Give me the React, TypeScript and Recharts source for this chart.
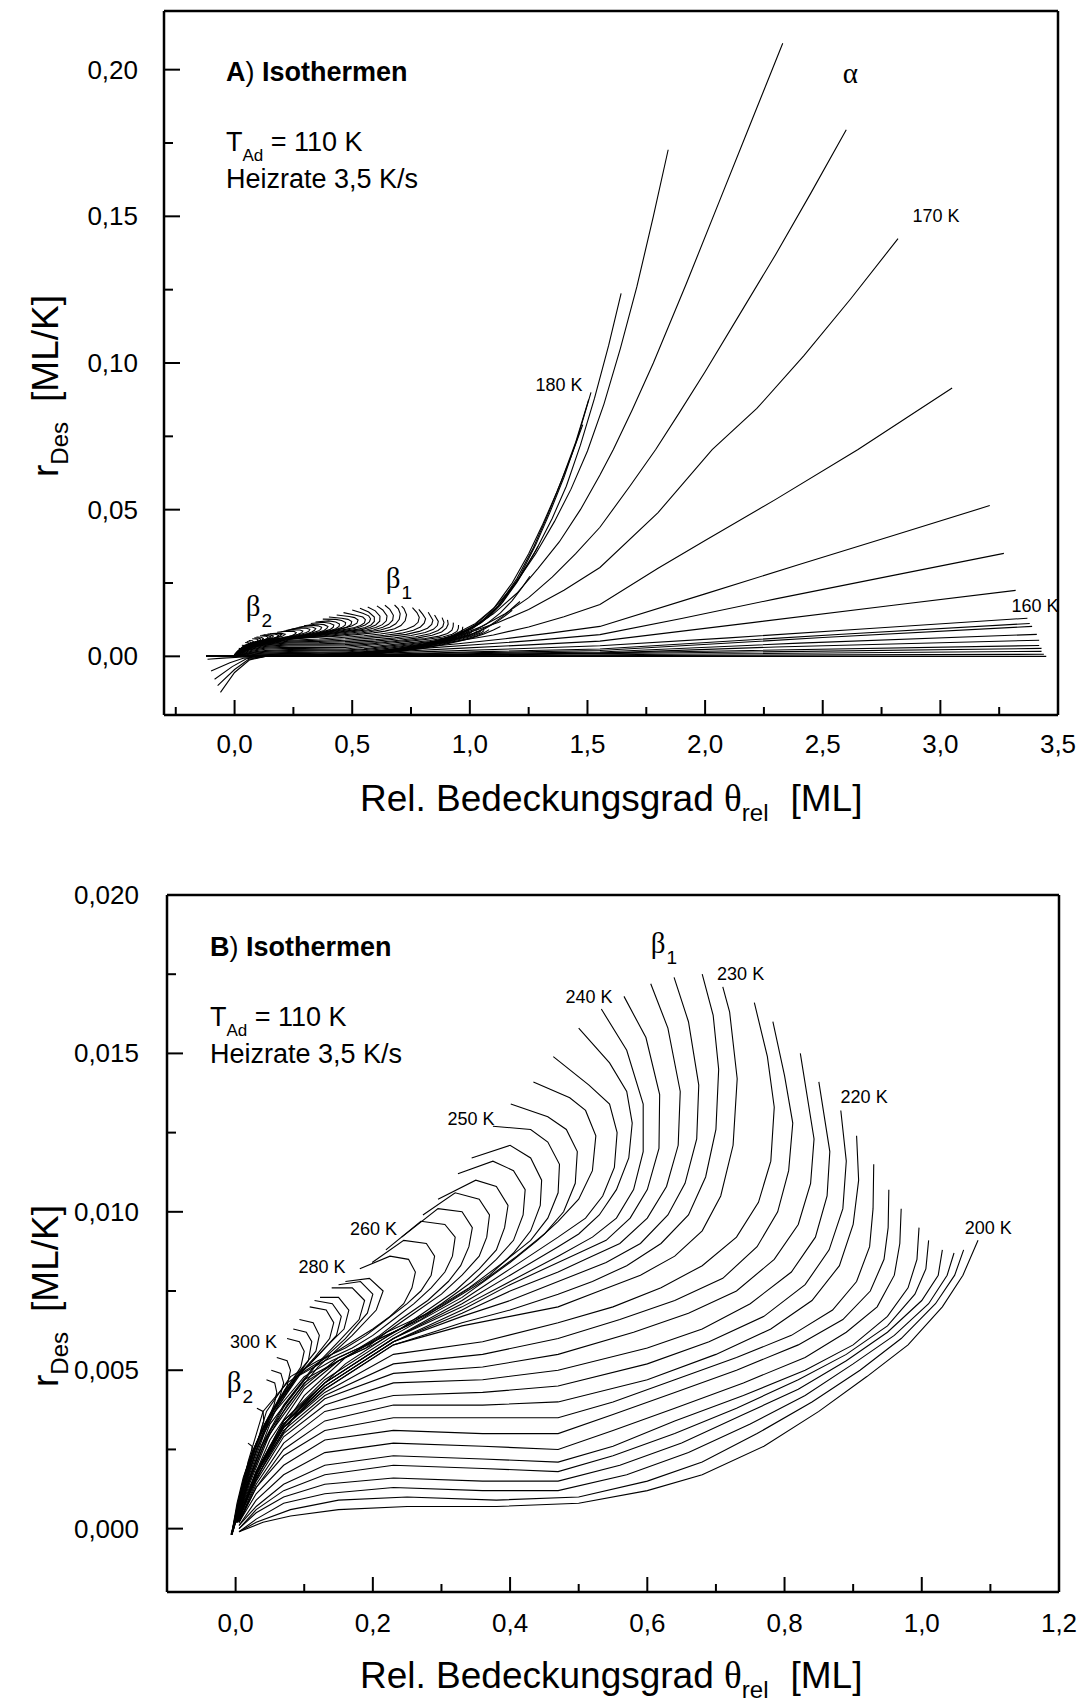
import React from 'react'
import { LineChart, Line, XAxis, YAxis, ReferenceDot, ReferenceLine } from 'recharts'

type Pt = [number, number]

const SANS = 'Liberation Sans, Arial, sans-serif'
const SERIF = 'Liberation Serif, Times New Roman, serif'

// axis ticks (major ones get a label)
const ticksAX = [-0.25, 0, 0.25, 0.5, 0.75, 1, 1.25, 1.5, 1.75, 2, 2.25, 2.5, 2.75, 3, 3.25, 3.5]
const majorAX = [0, 0.5, 1, 1.5, 2, 2.5, 3, 3.5]
const ticksAY = [0, 0.025, 0.05, 0.075, 0.1, 0.125, 0.15, 0.175, 0.2]
const majorAY = [0, 0.05, 0.1, 0.15, 0.2]
const ticksBX = [0, 0.1, 0.2, 0.3, 0.4, 0.5, 0.6, 0.7, 0.8, 0.9, 1, 1.1, 1.2]
const majorBX = [0, 0.2, 0.4, 0.6, 0.8, 1, 1.2]
const ticksBY = [0, 0.0025, 0.005, 0.0075, 0.01, 0.0125, 0.015, 0.0175, 0.02]
const majorBY = [0, 0.005, 0.01, 0.015, 0.02]

// axis ranges
const domainAX = [-0.3, 3.5]
const domainAY = [-0.02, 0.22]
const domainBX = [-0.1, 1.2]
const domainBY = [-0.002, 0.02]

// high temperature isotherms (200 K ... 300 K), shown in both panels
// each list runs from the start coverage down to zero coverage
const h00: Pt[] = [[1.082,0.0091],[1.06,0.008],[1.03,0.007],[0.98,0.0058],[0.92,0.0048],[0.85,0.0037],[0.77,0.0026],[0.68,0.0017],[0.6,0.0012],[0.5,0.0008],[0.38,0.0007],[0.25,0.0007],[0.15,0.0006],[0.08,0.0004],[0.04,0.0002],[0.005,-0.0001]]
const h01: Pt[] = [[1.061,0.0088],[1.048,0.008],[1.02,0.0071],[0.97,0.006],[0.91,0.005],[0.84,0.004],[0.76,0.003],[0.68,0.0021],[0.6,0.0015],[0.5,0.001],[0.38,0.0009],[0.25,0.001],[0.15,0.0009],[0.08,0.0006],[0.03,0.0002],[0.005,-0.0001]]
const h02: Pt[] = [[1.047,0.0087],[1.037,0.008],[1.01,0.0071],[0.96,0.0061],[0.9,0.0052],[0.83,0.0042],[0.75,0.0033],[0.66,0.0024],[0.57,0.0017],[0.47,0.0012],[0.36,0.0012],[0.23,0.0013],[0.13,0.0011],[0.07,0.0008],[0.03,0.0003],[0.005,-0.0001]]
const h03: Pt[] = [[1.03,0.0088],[1.024,0.008],[1.0,0.0072],[0.95,0.0062],[0.89,0.0053],[0.82,0.0044],[0.74,0.0036],[0.65,0.0027],[0.56,0.002],[0.47,0.0015],[0.36,0.0015],[0.23,0.0016],[0.13,0.0014],[0.07,0.001],[0.03,0.0005],[0.005,0]]
const h04: Pt[] = [[1.01,0.0091],[1.006,0.0082],[0.99,0.0074],[0.95,0.0064],[0.89,0.0055],[0.82,0.0047],[0.73,0.0038],[0.64,0.003],[0.55,0.0023],[0.47,0.0018],[0.36,0.0019],[0.23,0.002],[0.13,0.0017],[0.07,0.0012],[0.03,0.0006],[0.005,0]]
const h05: Pt[] = [[0.996,0.0095],[0.993,0.0085],[0.98,0.0076],[0.95,0.0067],[0.9,0.0058],[0.83,0.005],[0.74,0.0042],[0.64,0.0034],[0.55,0.0026],[0.47,0.0021],[0.36,0.0022],[0.23,0.0023],[0.13,0.002],[0.07,0.0014],[0.03,0.0007],[0.005,0.0001]]
const h06: Pt[] = [[0.97,0.0101],[0.968,0.009],[0.96,0.008],[0.935,0.007],[0.89,0.0062],[0.83,0.0054],[0.74,0.0046],[0.64,0.0038],[0.55,0.0031],[0.47,0.0025],[0.36,0.0026],[0.23,0.0027],[0.13,0.0024],[0.07,0.0017],[0.03,0.0009],[0.005,0.0001]]
const h07: Pt[] = [[0.952,0.0107],[0.951,0.0095],[0.945,0.0085],[0.925,0.0075],[0.885,0.0066],[0.82,0.0058],[0.73,0.005],[0.64,0.0043],[0.55,0.0036],[0.47,0.003],[0.36,0.003],[0.23,0.0031],[0.13,0.0028],[0.07,0.002],[0.03,0.0011],[0.005,0.0002]]
const h08: Pt[] = [[0.93,0.0115],[0.929,0.0101],[0.924,0.0089],[0.905,0.0078],[0.87,0.0069],[0.81,0.0061],[0.73,0.0054],[0.64,0.0047],[0.55,0.004],[0.47,0.0035],[0.36,0.0035],[0.23,0.0035],[0.13,0.0031],[0.07,0.0023],[0.03,0.0013],[0.005,0.0002]]
const h09: Pt[] = [[0.905,0.0124],[0.908,0.011],[0.9,0.0096],[0.88,0.0083],[0.84,0.0072],[0.78,0.0063],[0.7,0.0055],[0.6,0.0047],[0.47,0.004],[0.36,0.0039],[0.23,0.0039],[0.13,0.0034],[0.07,0.0025],[0.03,0.0013],[0.005,0.0002]]
const h10: Pt[] = [[0.882,0.0132],[0.89,0.0116],[0.885,0.0101],[0.865,0.0088],[0.83,0.0077],[0.77,0.0067],[0.69,0.0059],[0.6,0.0052],[0.47,0.0045],[0.36,0.0043],[0.23,0.0042],[0.13,0.0037],[0.07,0.0027],[0.03,0.0014],[0.005,0.0002]]
const h11: Pt[] = [[0.85,0.0141],[0.866,0.0119],[0.862,0.0105],[0.845,0.0092],[0.81,0.0081],[0.75,0.0071],[0.68,0.0063],[0.6,0.0057],[0.47,0.005],[0.36,0.0047],[0.23,0.0046],[0.13,0.0039],[0.07,0.0029],[0.03,0.0015],[0.005,0.0002]]
const h12: Pt[] = [[0.823,0.015],[0.843,0.0123],[0.838,0.0109],[0.82,0.0096],[0.785,0.0085],[0.73,0.0075],[0.66,0.0068],[0.58,0.0062],[0.47,0.0055],[0.36,0.0051],[0.23,0.0049],[0.13,0.0041],[0.07,0.003],[0.03,0.0016],[0.005,0.0003]]
const h13: Pt[] = [[0.783,0.016],[0.8,0.0143],[0.812,0.0128],[0.806,0.0113],[0.79,0.01],[0.76,0.0089],[0.71,0.0079],[0.64,0.0072],[0.56,0.0066],[0.47,0.006],[0.36,0.0055],[0.23,0.0052],[0.13,0.0042],[0.07,0.0031],[0.03,0.0016],[0.005,0.0003]]
const h14: Pt[] = [[0.756,0.0166],[0.775,0.0149],[0.785,0.0133],[0.78,0.0116],[0.762,0.0103],[0.73,0.0092],[0.68,0.0083],[0.62,0.0076],[0.55,0.007],[0.47,0.0065],[0.36,0.0059],[0.23,0.0055],[0.13,0.0043],[0.07,0.0032],[0.03,0.0017],[0.005,0.0003]]
const h15: Pt[] = [[0.71,0.0171],[0.72,0.0163],[0.731,0.0142],[0.725,0.0121],[0.707,0.0105],[0.68,0.0094],[0.64,0.0086],[0.59,0.008],[0.53,0.0075],[0.47,0.007],[0.4,0.0067],[0.33,0.0064],[0.23,0.0058],[0.13,0.0044],[0.07,0.0032],[0.03,0.0017],[0.005,0.0003]]
const h16: Pt[] = [[0.68,0.0175],[0.696,0.0162],[0.704,0.0145],[0.7,0.0126],[0.685,0.0111],[0.66,0.0099],[0.62,0.009],[0.57,0.0083],[0.52,0.0078],[0.47,0.0074],[0.4,0.0069],[0.33,0.0065],[0.23,0.0058],[0.13,0.0044],[0.07,0.0032],[0.03,0.0017],[0.005,0.0003]]
const h17: Pt[] = [[0.639,0.0174],[0.66,0.016],[0.675,0.014],[0.672,0.0123],[0.655,0.0109],[0.63,0.0099],[0.59,0.009],[0.54,0.0084],[0.47,0.0078],[0.4,0.0072],[0.33,0.0067],[0.23,0.0059],[0.13,0.0045],[0.07,0.0032],[0.03,0.0017],[0.005,0.0003]]
const h18: Pt[] = [[0.605,0.0172],[0.63,0.0158],[0.648,0.0138],[0.645,0.0121],[0.628,0.0108],[0.6,0.0098],[0.56,0.009],[0.51,0.0085],[0.47,0.0081],[0.4,0.0075],[0.33,0.0068],[0.23,0.0059],[0.13,0.0045],[0.07,0.0033],[0.03,0.0017],[0.005,0.0003]]
const h19: Pt[] = [[0.566,0.0168],[0.598,0.0155],[0.618,0.0137],[0.617,0.012],[0.6,0.0107],[0.575,0.0098],[0.54,0.0091],[0.5,0.0087],[0.47,0.0084],[0.4,0.0077],[0.33,0.0069],[0.23,0.0059],[0.13,0.0045],[0.07,0.0033],[0.03,0.0017],[0.005,0.0003]]
const h20: Pt[] = [[0.533,0.0164],[0.57,0.0151],[0.594,0.0134],[0.594,0.0119],[0.58,0.0107],[0.555,0.0098],[0.52,0.0092],[0.47,0.0086],[0.4,0.0078],[0.33,0.007],[0.23,0.006],[0.13,0.0046],[0.07,0.0033],[0.03,0.0018],[0.005,0.0003]]
const h21: Pt[] = [[0.5,0.0158],[0.545,0.0147],[0.57,0.0138],[0.578,0.0128],[0.573,0.0117],[0.555,0.0107],[0.53,0.0099],[0.5,0.0093],[0.47,0.0089],[0.4,0.008],[0.33,0.0071],[0.23,0.006],[0.13,0.0046],[0.07,0.0033],[0.03,0.0018],[0.005,0.0003]]
const h22: Pt[] = [[0.463,0.0149],[0.515,0.014],[0.545,0.0134],[0.556,0.0125],[0.552,0.0114],[0.535,0.0105],[0.51,0.0098],[0.47,0.0092],[0.4,0.0082],[0.33,0.0072],[0.23,0.006],[0.13,0.0046],[0.07,0.0034],[0.03,0.0018],[0.005,0.0003]]
const h23: Pt[] = [[0.434,0.0141],[0.487,0.0136],[0.51,0.0132],[0.525,0.0124],[0.52,0.0113],[0.5,0.0104],[0.47,0.0097],[0.44,0.0091],[0.4,0.0084],[0.33,0.0073],[0.23,0.0061],[0.13,0.0047],[0.07,0.0034],[0.03,0.0018],[0.005,0.0003]]
const h24: Pt[] = [[0.401,0.0134],[0.455,0.013],[0.482,0.0126],[0.498,0.0119],[0.495,0.0109],[0.478,0.01],[0.45,0.0093],[0.41,0.0086],[0.36,0.0078],[0.3,0.007],[0.23,0.0062],[0.16,0.0052],[0.1,0.004],[0.05,0.0024],[0.02,0.0011],[0.003,0.0002]]
const h25: Pt[] = [[0.375,0.0127],[0.43,0.0126],[0.455,0.0122],[0.472,0.0115],[0.47,0.0106],[0.455,0.0098],[0.43,0.0091],[0.39,0.0084],[0.34,0.0076],[0.28,0.0068],[0.22,0.0062],[0.16,0.0054],[0.1,0.0042],[0.05,0.0026],[0.02,0.0012],[0.003,0.0002]]
const h26: Pt[] = [[0.344,0.0117],[0.4,0.0121],[0.43,0.0117],[0.446,0.011],[0.444,0.0102],[0.43,0.0094],[0.405,0.0087],[0.37,0.008],[0.32,0.0073],[0.27,0.0066],[0.21,0.006],[0.15,0.0053],[0.1,0.0044],[0.05,0.0028],[0.02,0.0013],[0.002,0.0002]]
const h27: Pt[] = [[0.324,0.0112],[0.375,0.0116],[0.405,0.0113],[0.422,0.0107],[0.419,0.0099],[0.405,0.0091],[0.38,0.0085],[0.345,0.0078],[0.3,0.0071],[0.25,0.0064],[0.2,0.0059],[0.15,0.0054],[0.1,0.0045],[0.05,0.003],[0.02,0.0014],[0.002,0.0002]]
const h28: Pt[] = [[0.295,0.0104],[0.35,0.011],[0.38,0.0108],[0.397,0.0102],[0.392,0.0095],[0.38,0.0088],[0.355,0.0082],[0.32,0.0075],[0.28,0.0069],[0.24,0.0063],[0.2,0.0058],[0.15,0.0053],[0.1,0.0046],[0.05,0.0031],[0.02,0.0015],[0.002,0.0002]]
const h29: Pt[] = [[0.273,0.0099],[0.32,0.0106],[0.355,0.0104],[0.37,0.0099],[0.366,0.0092],[0.355,0.0086],[0.33,0.008],[0.3,0.0074],[0.26,0.0068],[0.22,0.0062],[0.19,0.0057],[0.15,0.0053],[0.1,0.0047],[0.05,0.0033],[0.02,0.0016],[0.002,0.0002]]
const h30: Pt[] = [[0.242,0.0092],[0.295,0.0101],[0.33,0.01],[0.345,0.0095],[0.34,0.0089],[0.328,0.0083],[0.31,0.0078],[0.28,0.0072],[0.24,0.0066],[0.21,0.0061],[0.18,0.0057],[0.14,0.0053],[0.1,0.0048],[0.05,0.0035],[0.02,0.0017],[0.001,0.0002]]
const h31: Pt[] = [[0.219,0.0088],[0.27,0.0097],[0.305,0.0096],[0.32,0.0092],[0.316,0.0086],[0.305,0.0081],[0.285,0.0076],[0.26,0.0071],[0.23,0.0066],[0.2,0.0061],[0.17,0.0057],[0.13,0.0053],[0.09,0.0048],[0.05,0.0036],[0.02,0.0018],[0.001,0.0002]]
const h32: Pt[] = [[0.199,0.0084],[0.245,0.0091],[0.278,0.009],[0.29,0.0086],[0.285,0.008],[0.27,0.0075],[0.25,0.0071],[0.22,0.0066],[0.19,0.0061],[0.16,0.0057],[0.12,0.0053],[0.08,0.0048],[0.045,0.0037],[0.02,0.0019],[0,0.0002]]
const h33: Pt[] = [[0.181,0.0082],[0.225,0.0086],[0.252,0.0085],[0.262,0.0081],[0.257,0.0076],[0.245,0.0071],[0.225,0.0067],[0.2,0.0063],[0.17,0.0059],[0.14,0.0055],[0.11,0.0051],[0.075,0.0046],[0.04,0.0037],[0.018,0.0021],[0,0.0002]]
const h34: Pt[] = [[0.16,0.0078],[0.195,0.0079],[0.215,0.0075],[0.205,0.0069],[0.17,0.0061],[0.12,0.0051],[0.075,0.0039],[0.04,0.0026],[0.015,0.0012],[-0.003,0]]
const h35: Pt[] = [[0.15,0.0077],[0.182,0.0078],[0.2,0.0074],[0.192,0.0068],[0.16,0.006],[0.115,0.0051],[0.072,0.0039],[0.038,0.0026],[0.014,0.0012],[-0.003,0]]
const h36: Pt[] = [[0.14,0.0076],[0.17,0.0076],[0.188,0.0072],[0.18,0.0066],[0.15,0.0059],[0.11,0.005],[0.07,0.0039],[0.037,0.0026],[0.013,0.0012],[-0.004,-0.0001]]
const h37: Pt[] = [[0.123,0.0073],[0.15,0.0073],[0.165,0.0069],[0.158,0.0063],[0.13,0.0057],[0.095,0.0049],[0.06,0.0038],[0.032,0.0026],[0.011,0.0012],[-0.004,-0.0001]]
const h38: Pt[] = [[0.115,0.0072],[0.141,0.0071],[0.154,0.0067],[0.147,0.0061],[0.122,0.0055],[0.09,0.0048],[0.057,0.0037],[0.03,0.0025],[0.01,0.0011],[-0.005,-0.0001]]
const h39: Pt[] = [[0.108,0.007],[0.132,0.0069],[0.143,0.0065],[0.137,0.006],[0.115,0.0054],[0.085,0.0047],[0.055,0.0037],[0.028,0.0025],[0.009,0.0011],[-0.005,-0.0001]]
const h40: Pt[] = [[0.093,0.0066],[0.113,0.0065],[0.122,0.0061],[0.117,0.0056],[0.098,0.0051],[0.072,0.0044],[0.047,0.0035],[0.024,0.0024],[0.008,0.0011],[-0.005,-0.0002]]
const h41: Pt[] = [[0.084,0.0063],[0.103,0.0062],[0.111,0.0059],[0.106,0.0053],[0.089,0.0048],[0.065,0.0041],[0.042,0.0033],[0.022,0.0022],[0.007,0.001],[-0.006,-0.0002]]
const h42: Pt[] = [[0.075,0.006],[0.093,0.0059],[0.1,0.0056],[0.095,0.0051],[0.08,0.0046],[0.058,0.0039],[0.038,0.0031],[0.02,0.0021],[0.006,0.001],[-0.006,-0.0002]]
const h43: Pt[] = [[0.06,0.0054],[0.075,0.0053],[0.08,0.005],[0.075,0.0045],[0.063,0.004],[0.046,0.0034],[0.03,0.0027],[0.016,0.0019],[0.004,0.0009],[-0.006,-0.0002]]
const h44: Pt[] = [[0.052,0.005],[0.066,0.0049],[0.07,0.0046],[0.065,0.0042],[0.054,0.0037],[0.04,0.0031],[0.026,0.0025],[0.013,0.0017],[0.003,0.0008],[-0.006,-0.0002]]
const h45: Pt[] = [[0.045,0.0047],[0.057,0.0046],[0.06,0.0043],[0.056,0.0039],[0.046,0.0034],[0.034,0.0029],[0.022,0.0023],[0.011,0.0016],[0.002,0.0008],[-0.006,-0.0002]]
const h46: Pt[] = [[0.031,0.0038],[0.04,0.0037],[0.041,0.0034],[0.036,0.003],[0.028,0.0025],[0.019,0.0019],[0.01,0.0012],[0.002,0.0006],[-0.006,-0.0002]]
const h47: Pt[] = [[0.018,0.0027],[0.024,0.0026],[0.024,0.0023],[0.019,0.0019],[0.012,0.0014],[0.005,0.0008],[-0.002,0.0002],[-0.007,-0.0002]]

// lower temperature isotherms (about 150 K ... 198 K), panel A only
const c1: Pt[] = [[1.13,0.0102],[1.1,0.009],[1.06,0.0076],[1.01,0.0063],[0.95,0.0051],[0.88,0.0039],[0.8,0.0027],[0.7,0.0017],[0.6,0.001],[0.5,0.0007],[0.38,0.0005],[0.25,0.0005],[0.15,0.0004],[0.07,0.0002],[0,0],[-0.12,0]]
const c2: Pt[] = [[1.18,0.0157],[1.15,0.0138],[1.11,0.0115],[1.06,0.0092],[1.0,0.0072],[0.93,0.0056],[0.86,0.0042],[0.78,0.0029],[0.7,0.0018],[0.6,0.001],[0.5,0.0006],[0.35,0.0004],[0.2,0.0004],[0.1,0.0003],[0.03,0.0001],[-0.12,0]]
const c3: Pt[] = [[1.213,0.0187],[1.18,0.0164],[1.14,0.0136],[1.09,0.0108],[1.03,0.0083],[0.96,0.0063],[0.88,0.0046],[0.8,0.0032],[0.72,0.002],[0.62,0.0011],[0.5,0.0005],[0.35,0.0003],[0.2,0.0003],[0.1,0.0002],[0.03,0],[-0.12,0]]
const c4: Pt[] = [[1.255,0.0273],[1.22,0.0232],[1.18,0.019],[1.13,0.0148],[1.07,0.011],[1.0,0.008],[0.92,0.0058],[0.84,0.004],[0.75,0.0025],[0.65,0.0013],[0.52,0.0005],[0.35,0.0003],[0.2,0.0002],[0.1,0.0001],[0,0],[-0.12,0]]
const c5: Pt[] = [[1.29,0.0375],[1.25,0.0318],[1.2,0.0252],[1.14,0.0185],[1.08,0.0134],[1.01,0.0094],[0.93,0.0065],[0.85,0.0044],[0.76,0.0028],[0.66,0.0015],[0.53,0.0006],[0.35,0.0003],[0.2,0.0002],[0.1,0.0001],[0,0],[-0.12,0]]
const f1a: Pt[] = [[1.515,0.09],[1.46,0.075],[1.4,0.061],[1.34,0.049],[1.28,0.038],[1.21,0.027],[1.13,0.0175],[1.05,0.0115],[0.96,0.0076],[0.87,0.005],[0.78,0.0032],[0.68,0.0018],[0.55,0.0008],[0.4,0.0003],[0.2,0.0002],[0.05,0],[-0.12,0]]
const f1b: Pt[] = [[1.505,0.0875],[1.45,0.073],[1.39,0.06],[1.33,0.048],[1.27,0.037],[1.2,0.0265],[1.12,0.017],[1.04,0.0112],[0.95,0.0074],[0.86,0.0048],[0.77,0.003],[0.67,0.0017],[0.55,0.0008],[0.4,0.0003],[0.2,0.0001],[0.05,0],[-0.12,0]]
const f1c: Pt[] = [[1.48,0.079],[1.43,0.068],[1.37,0.056],[1.31,0.045],[1.25,0.035],[1.18,0.025],[1.1,0.0162],[1.02,0.0106],[0.94,0.0071],[0.85,0.0046],[0.76,0.0029],[0.66,0.0016],[0.54,0.0007],[0.4,0.0003],[0.2,0.0001],[0.05,0],[-0.12,0]]
const f2: Pt[] = [[1.643,0.1237],[1.59,0.106],[1.53,0.088],[1.47,0.072],[1.41,0.058],[1.35,0.047],[1.28,0.036],[1.2,0.0255],[1.12,0.0172],[1.04,0.0112],[0.96,0.0075],[0.87,0.0049],[0.78,0.0031],[0.68,0.0017],[0.55,0.0007],[0.4,0.0002],[0.2,0.0001],[0.05,0],[-0.12,0]]
const f3: Pt[] = [[1.843,0.1727],[1.78,0.15],[1.71,0.126],[1.64,0.105],[1.57,0.086],[1.5,0.07],[1.43,0.057],[1.36,0.046],[1.28,0.035],[1.2,0.0255],[1.11,0.017],[1.02,0.011],[0.93,0.0073],[0.84,0.0048],[0.75,0.003],[0.65,0.0016],[0.52,0.0006],[0.35,0.0002],[0.15,0.0001],[0,0],[-0.12,0]]
const f4: Pt[] = [[2.33,0.209],[2.2,0.183],[2.06,0.155],[1.92,0.127],[1.78,0.1],[1.69,0.084],[1.61,0.0705],[1.553,0.0618],[1.47,0.05],[1.38,0.039],[1.29,0.03],[1.2,0.0215],[1.1,0.0145],[1.0,0.0095],[0.9,0.0062],[0.8,0.004],[0.7,0.0024],[0.6,0.0013],[0.45,0.0005],[0.3,0.0002],[0.2,0.0001],[0.136,0],[0.064,-0.0012],[0,-0.0055],[-0.06,-0.0123]]
const f5: Pt[] = [[2.6,0.1795],[2.45,0.158],[2.3,0.137],[2.15,0.117],[2.0,0.097],[1.89,0.083],[1.79,0.0705],[1.68,0.058],[1.553,0.044],[1.45,0.035],[1.35,0.027],[1.25,0.02],[1.15,0.0145],[1.05,0.0102],[0.95,0.007],[0.85,0.0046],[0.75,0.0029],[0.63,0.0015],[0.5,0.0006],[0.3,0.0002],[0.2,0.0001],[0.13,0],[0.06,-0.001],[0,-0.0045],[-0.072,-0.01]]
const f6: Pt[] = [[2.82,0.1424],[2.62,0.122],[2.42,0.1025],[2.22,0.0845],[2.03,0.0705],[1.8,0.049],[1.553,0.0303],[1.4,0.0225],[1.25,0.016],[1.12,0.0115],[1.0,0.0082],[0.9,0.006],[0.8,0.0042],[0.7,0.0028],[0.58,0.0015],[0.45,0.0006],[0.3,0.0002],[0.13,0],[0.05,-0.0008],[-0.01,-0.0035],[-0.085,-0.0078]]
const f7: Pt[] = [[3.05,0.0915],[2.85,0.081],[2.65,0.0705],[2.3,0.0535],[2.0,0.0395],[1.8,0.03],[1.553,0.0177],[1.4,0.0135],[1.25,0.01],[1.1,0.0073],[0.95,0.0052],[0.8,0.0035],[0.65,0.0021],[0.5,0.001],[0.35,0.0004],[0.12,0],[0.04,-0.0006],[-0.02,-0.0022],[-0.1,-0.005]]
const f8: Pt[] = [[3.21,0.0514],[2.8,0.0412],[2.4,0.0313],[2.0,0.0213],[1.553,0.0102],[1.35,0.008],[1.15,0.006],[0.95,0.0043],[0.75,0.0028],[0.55,0.0014],[0.35,0.0005],[0.1,0],[0.02,-0.0003],[-0.05,-0.0006],[-0.115,-0.001]]
const f9: Pt[] = [[3.27,0.0351],[2.8,0.0276],[2.3,0.0196],[1.9,0.0129],[1.553,0.0074],[1.3,0.0056],[1.05,0.0041],[0.8,0.0027],[0.55,0.0013],[0.3,0.0004],[0.1,0],[-0.12,0]]
const f10: Pt[] = [[3.32,0.0225],[2.8,0.0174],[2.2,0.0115],[1.553,0.0052],[1.25,0.0039],[0.95,0.0027],[0.65,0.0015],[0.4,0.0006],[0.15,0.0001],[-0.12,0]]
const f11: Pt[] = [[3.37,0.013],[2.7,0.0095],[2.1,0.0063],[1.553,0.0036],[1.2,0.0026],[0.85,0.0017],[0.5,0.0007],[0.2,0.0001],[-0.12,0]]
const f12: Pt[] = [[3.38,0.0112],[2.6,0.0076],[1.553,0.0025],[1.1,0.0017],[0.7,0.0009],[0.35,0.0003],[0.1,0],[-0.12,0]]
const f13: Pt[] = [[3.39,0.0102],[2.5,0.0064],[1.553,0.002],[1.0,0.0012],[0.5,0.0004],[0.15,0],[-0.12,0]]
const f14: Pt[] = [[3.41,0.0075],[2.4,0.0045],[1.553,0.0015],[0.9,0.0008],[0.4,0.0002],[0.1,0],[-0.12,0]]
const f15: Pt[] = [[3.42,0.0055],[2.3,0.0032],[1.553,0.0011],[0.8,0.0005],[0.3,0.0001],[-0.12,0]]
const f16: Pt[] = [[3.42,0.0037],[2.2,0.002],[1.2,0.0007],[0.5,0.0002],[-0.12,0]]
const f17: Pt[] = [[3.43,0.0027],[2.0,0.0013],[1.0,0.0004],[0.3,0.0001],[-0.12,0]]
const f18: Pt[] = [[3.43,0.0017],[2.0,0.0008],[1.0,0.0002],[-0.12,0]]
const f19: Pt[] = [[3.44,0.0007],[1.8,0.0003],[0.8,0.0001],[-0.12,0]]
const f20: Pt[] = [[3.45,0],[-0.12,0]]

const highT = [h00, h01, h02, h03, h04, h05, h06, h07, h08, h09, h10, h11, h12, h13, h14, h15, h16, h17, h18, h19, h20, h21, h22, h23, h24, h25, h26, h27, h28, h29, h30, h31, h32, h33, h34, h35, h36, h37, h38, h39, h40, h41, h42, h43, h44, h45, h46, h47]
const lowT = [c1, c2, c3, c4, c5, f1a, f1b, f1c, f2, f3, f4, f5, f6, f7, f8, f9, f10, f11, f12, f13, f14, f15, f16, f17, f18, f19, f20]

// temperature annotations (text centre x, baseline y, in data units)
const tempLabelsA = [
  { text: '180 K', x: 1.379, y: 0.0906 },
  { text: '170 K', x: 2.981, y: 0.1482 },
  { text: '160 K', x: 3.402, y: 0.015 },
]
const tempLabelsB = [
  { text: '230 K', x: 0.736, y: 0.01732 },
  { text: '240 K', x: 0.515, y: 0.01659 },
  { text: '220 K', x: 0.916, y: 0.01343 },
  { text: '250 K', x: 0.343, y: 0.01274 },
  { text: '200 K', x: 1.097, y: 0.0093 },
  { text: '260 K', x: 0.201, y: 0.00926 },
  { text: '280 K', x: 0.126, y: 0.00807 },
  { text: '300 K', x: 0.026, y: 0.0057 },
]
// peak names (left edge x, baseline y)
const peaksA = [
  { name: 'β', sub: '1', x: 0.643, y: 0.0232 },
  { name: 'β', sub: '2', x: 0.047, y: 0.0136 },
  { name: 'α', sub: '', x: 2.585, y: 0.1956 },
]
const peaksB = [
  { name: 'β', sub: '1', x: 0.605, y: 0.01817 },
  { name: 'β', sub: '2', x: -0.013, y: 0.00431 },
]

const toRows = (pts: Pt[]) => pts.map(([x, y]) => ({ x, y }))
const fmt = (v: number, d: number) => v.toFixed(d).replace('.', ',')
const isMajor = (v: number, list: number[]) => list.some((m) => Math.abs(m - v) < 1e-9)

const AXIS = { stroke: '#000', strokeWidth: 2.5 }

const makeXTick = (majors: number[], digits: number, gap: number) => (p: any) => {
  const v = p.payload.value
  const major = isMajor(v, majors)
  return (
    <g>
      <line x1={p.x} x2={p.x} y1={p.y} y2={p.y - (major ? 15 : 8)} stroke="#000" strokeWidth={2} />
      {major && (
        <text x={p.x} y={p.y + gap} textAnchor="middle" fontSize={26} fontFamily={SANS} fill="#000">
          {fmt(v, digits)}
        </text>
      )}
    </g>
  )
}

const makeYTick = (majors: number[], digits: number, gap: number) => (p: any) => {
  const v = p.payload.value
  const major = isMajor(v, majors)
  return (
    <g>
      <line x1={p.x} x2={p.x + (major ? 16 : 9)} y1={p.y} y2={p.y} stroke="#000" strokeWidth={2} />
      {major && (
        <text x={p.x - gap} y={p.y + 9} textAnchor="end" fontSize={26} fontFamily={SANS} fill="#000">
          {fmt(v, digits)}
        </text>
      )}
    </g>
  )
}

const tempShape = (text: string) => (p: any) => (
  <text x={p.cx} y={p.cy} textAnchor="middle" fontSize={18} fontFamily={SANS} fill="#000">
    {text}
  </text>
)

const peakShape = (name: string, sub: string) => (p: any) => (
  <text x={p.cx} y={p.cy} fontSize={29} fontFamily={SERIF} fill="#000">
    {name}
    {sub && (
      <tspan fontFamily={SANS} fontSize={19} dx={1} dy={11}>
        {sub}
      </tspan>
    )}
  </text>
)

const renderLines = (sets: Pt[][], prefix: string) =>
  sets.map((pts, i) => (
    <Line
      key={`${prefix}-${i}`}
      data={toRows(pts)}
      dataKey="y"
      type="linear"
      stroke="#000"
      strokeWidth={1.1}
      dot={false}
      activeDot={false}
      isAnimationActive={false}
    />
  ))

// top and right edges of the box
const renderFrame = (dx: number[], dy: number[]) => [
  <ReferenceLine key="frame-top" y={dy[1]} stroke="#000" strokeWidth={2.5} />,
  <ReferenceLine key="frame-right" x={dx[1]} stroke="#000" strokeWidth={2.5} />,
]

const PanelText = ({ letter, left, top }: { letter: string; left: number; top: number }) => (
  <g fontFamily={SANS} fill="#000">
    <text x={left} y={top} fontSize={27}>
      <tspan fontWeight="bold">{letter}</tspan>
      <tspan>{')'}</tspan>
      <tspan fontWeight="bold">{' Isothermen'}</tspan>
    </text>
    <text x={left} y={top + 70} fontSize={27}>
      T
      <tspan fontSize={17} dy={10}>
        Ad
      </tspan>
      <tspan dy={-10}>{' = 110 K'}</tspan>
    </text>
    <text x={left} y={top + 107} fontSize={27}>
      Heizrate 3,5 K/s
    </text>
  </g>
)

const XTitle = ({ y }: { y: number }) => (
  <text x={360} y={y} fontSize={37} fontFamily={SANS} fill="#000">
    {'Rel. Bedeckungsgrad '}
    <tspan fontFamily={SERIF}>θ</tspan>
    <tspan fontSize={24} dy={10}>
      rel
    </tspan>
    <tspan dx={22} dy={-10}>
      [ML]
    </tspan>
  </text>
)

const YTitle = ({ cy }: { cy: number }) => (
  <text
    x={58}
    y={cy}
    transform={`rotate(-90 58 ${cy})`}
    textAnchor="middle"
    fontSize={37}
    fontFamily={SANS}
    fill="#000"
  >
    r
    <tspan fontSize={24} dy={10}>
      Des
    </tspan>
    <tspan dx={20} dy={-10}>
      [ML/K]
    </tspan>
  </text>
)

export default function App() {
  return (
    <div
      style={{
        position: 'absolute',
        left: 0,
        top: 0,
        width: 1084,
        height: 1704,
        background: '#fff',
        fontFamily: SANS,
      }}
    >
      {/* A) full coverage range */}
      <LineChart width={1084} height={860} margin={{ top: 11, right: 26, bottom: 0, left: 0 }}>
        <XAxis
          dataKey="x"
          type="number"
          domain={domainAX}
          allowDataOverflow
          ticks={ticksAX}
          interval={0}
          tick={makeXTick(majorAX, 1, 38)}
          tickLine={false}
          tickSize={0}
          tickMargin={0}
          height={145}
          axisLine={AXIS}
        />
        <YAxis
          type="number"
          domain={domainAY}
          allowDataOverflow
          ticks={ticksAY}
          interval={0}
          tick={makeYTick(majorAY, 2, 26)}
          tickLine={false}
          tickSize={0}
          tickMargin={0}
          width={164}
          axisLine={AXIS}
        />
        {renderFrame(domainAX, domainAY)}
        {renderLines(lowT, 'a-low')}
        {renderLines(highT, 'a-high')}
        {tempLabelsA.map((l) => (
          <ReferenceDot key={l.text} x={l.x} y={l.y} r={0} ifOverflow="visible" shape={tempShape(l.text)} />
        ))}
        {peaksA.map((l) => (
          <ReferenceDot key={l.name + l.sub} x={l.x} y={l.y} r={0} ifOverflow="visible" shape={peakShape(l.name, l.sub)} />
        ))}
      </LineChart>

      {/* B) low coverage detail */}
      <LineChart width={1084} height={844} margin={{ top: 35, right: 25, bottom: 0, left: 0 }}>
        <XAxis
          dataKey="x"
          type="number"
          domain={domainBX}
          allowDataOverflow
          ticks={ticksBX}
          interval={0}
          tick={makeXTick(majorBX, 1, 40)}
          tickLine={false}
          tickSize={0}
          tickMargin={0}
          height={112}
          axisLine={AXIS}
        />
        <YAxis
          type="number"
          domain={domainBY}
          allowDataOverflow
          ticks={ticksBY}
          interval={0}
          tick={makeYTick(majorBY, 3, 28)}
          tickLine={false}
          tickSize={0}
          tickMargin={0}
          width={167}
          axisLine={AXIS}
        />
        {renderFrame(domainBX, domainBY)}
        {renderLines(highT, 'b-high')}
        {tempLabelsB.map((l) => (
          <ReferenceDot key={l.text} x={l.x} y={l.y} r={0} ifOverflow="visible" shape={tempShape(l.text)} />
        ))}
        {peaksB.map((l) => (
          <ReferenceDot key={l.name + l.sub} x={l.x} y={l.y} r={0} ifOverflow="visible" shape={peakShape(l.name, l.sub)} />
        ))}
      </LineChart>

      <svg
        width={1084}
        height={1704}
        style={{ position: 'absolute', left: 0, top: 0, pointerEvents: 'none' }}
      >
        <PanelText letter="A" left={226} top={81} />
        <PanelText letter="B" left={210} top={956} />
        <XTitle y={811} />
        <XTitle y={1688} />
        <YTitle cy={386} />
        <YTitle cy={1296} />
      </svg>
    </div>
  )
}
